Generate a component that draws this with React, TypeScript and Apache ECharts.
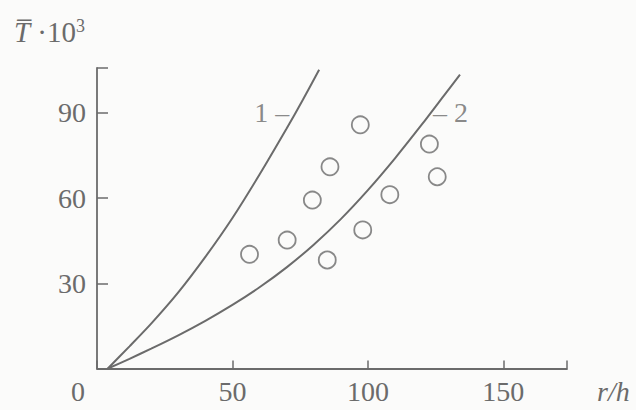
import React, { useEffect, useRef } from "react";
import * as echarts from "echarts";

// Curve 1 (r/h, T·10^3)
const curve1X = [4, 12, 20, 30, 40, 50, 60, 70, 76, 82];
const curve1Y = [0, 7.8, 15.8, 26.8, 39.3, 53, 68.3, 84.5, 94.6, 105.2];
// Curve 2
const curve2X = [4, 12, 20, 30, 40, 50, 60, 70, 80, 90, 100, 110, 120, 128, 134];
const curve2Y = [0, 3.4, 7.0, 11.7, 16.8, 22.4, 28.6, 35.6, 43.6, 52.6, 62.8, 74, 86, 96, 103.5];
// Experimental points
const pointsX = [56.3, 70.2, 85, 79.5, 86, 97.2, 98.1, 108.1, 122.7, 125.6];
const pointsY = [40.2, 45.2, 38.2, 59.3, 71, 85.8, 48.8, 61.2, 79, 67.5];
// Curve labels
const curveLabels = ["1 –", "– 2"];
const curveLabelX = [64.5, 130.5];
const curveLabelY = [90, 90];

const xTicks = [0, 50, 100, 150];
const yTicks = [30, 60, 90];

const INK = "#6b6b6b";
const FONT = "'Liberation Serif', 'DejaVu Serif', serif";

export default function App() {
  const ref = useRef<HTMLDivElement>(null);
  useEffect(() => {
    if (!ref.current) return;
    const chart = echarts.init(ref.current, undefined, { renderer: "svg" });
    const zip = (xs: number[], ys: number[]) => xs.map((x, i) => [x, ys[i]]);
    chart.setOption({
      animation: false,
      backgroundColor: "#fbfbfa",
      grid: { left: 97, right: 69, top: 68, bottom: 41.5, containLabel: false },
      xAxis: {
        type: "value",
        min: 0,
        max: 173.5,
        interval: 50,
        name: "r/h",
        nameLocation: "end",
        nameGap: 30,
        nameTextStyle: {
          fontFamily: FONT,
          fontStyle: "italic",
          fontSize: 28,
          color: INK,
          verticalAlign: "top",
          padding: [9, 0, 0, 0],
        },
        axisLine: { show: true, lineStyle: { color: INK, width: 1.8 } },
        axisTick: { show: true, inside: true, length: 8, lineStyle: { color: INK, width: 1.5 } },
        splitLine: { show: false },
        axisLabel: {
          margin: 9,
          fontFamily: FONT,
          fontSize: 28,
          color: INK,
          formatter: (v: number) => (xTicks.includes(v) ? (v === 0 ? "{z|0}" : String(v)) : ""),
          rich: {
            z: { fontFamily: FONT, fontSize: 28, color: INK, padding: [0, 38, 0, 0] },
          },
        },
      },
      yAxis: {
        type: "value",
        min: 0,
        max: 105.8,
        interval: 30,
        name: "{t|T\u0305}{n| ·10}{s|3}",
        nameLocation: "end",
        nameGap: 22,
        nameTextStyle: {
          align: "right",
          verticalAlign: "bottom",
          padding: [0, 12, 0, 0],
          rich: {
            t: { fontFamily: FONT, fontStyle: "italic", fontSize: 29, color: INK },
            n: { fontFamily: FONT, fontSize: 29, color: INK },
            s: { fontFamily: FONT, fontSize: 18, color: INK, verticalAlign: "top" },
          },
        },
        axisLine: { show: true, lineStyle: { color: INK, width: 1.8 } },
        axisTick: { show: true, inside: true, length: 11, lineStyle: { color: INK, width: 1.5 } },
        splitLine: { show: false },
        axisLabel: {
          margin: 11,
          fontFamily: FONT,
          fontSize: 28,
          color: INK,
          formatter: (v: number) => (yTicks.includes(v) ? String(v) : ""),
        },
      },
      series: [
        {
          name: "1",
          type: "line",
          smooth: 0.25,
          showSymbol: false,
          data: zip(curve1X, curve1Y),
          lineStyle: { color: INK, width: 2 },
        },
        {
          name: "2",
          type: "line",
          smooth: 0.25,
          showSymbol: false,
          data: zip(curve2X, curve2Y),
          lineStyle: { color: INK, width: 2 },
        },
        {
          name: "points",
          type: "scatter",
          symbol: "circle",
          symbolSize: 17,
          data: zip(pointsX, pointsY),
          itemStyle: { color: "rgba(0,0,0,0)", borderColor: INK, borderWidth: 1.8 },
        },
        {
          name: "labels",
          type: "scatter",
          symbolSize: 0,
          data: curveLabels.map((t, i) => ({ value: [curveLabelX[i], curveLabelY[i]], name: t })),
          label: {
            show: true,
            position: "inside",
            formatter: (p: any) => p.name,
            fontFamily: FONT,
            fontSize: 28,
            color: INK,
          },
          silent: true,
        },
      ],
    });
    return () => chart.dispose();
  }, []);
  return (
    <div
      ref={ref}
      style={{ position: "fixed", left: 0, top: 0, width: 636, height: 410 }}
    />
  );
}
